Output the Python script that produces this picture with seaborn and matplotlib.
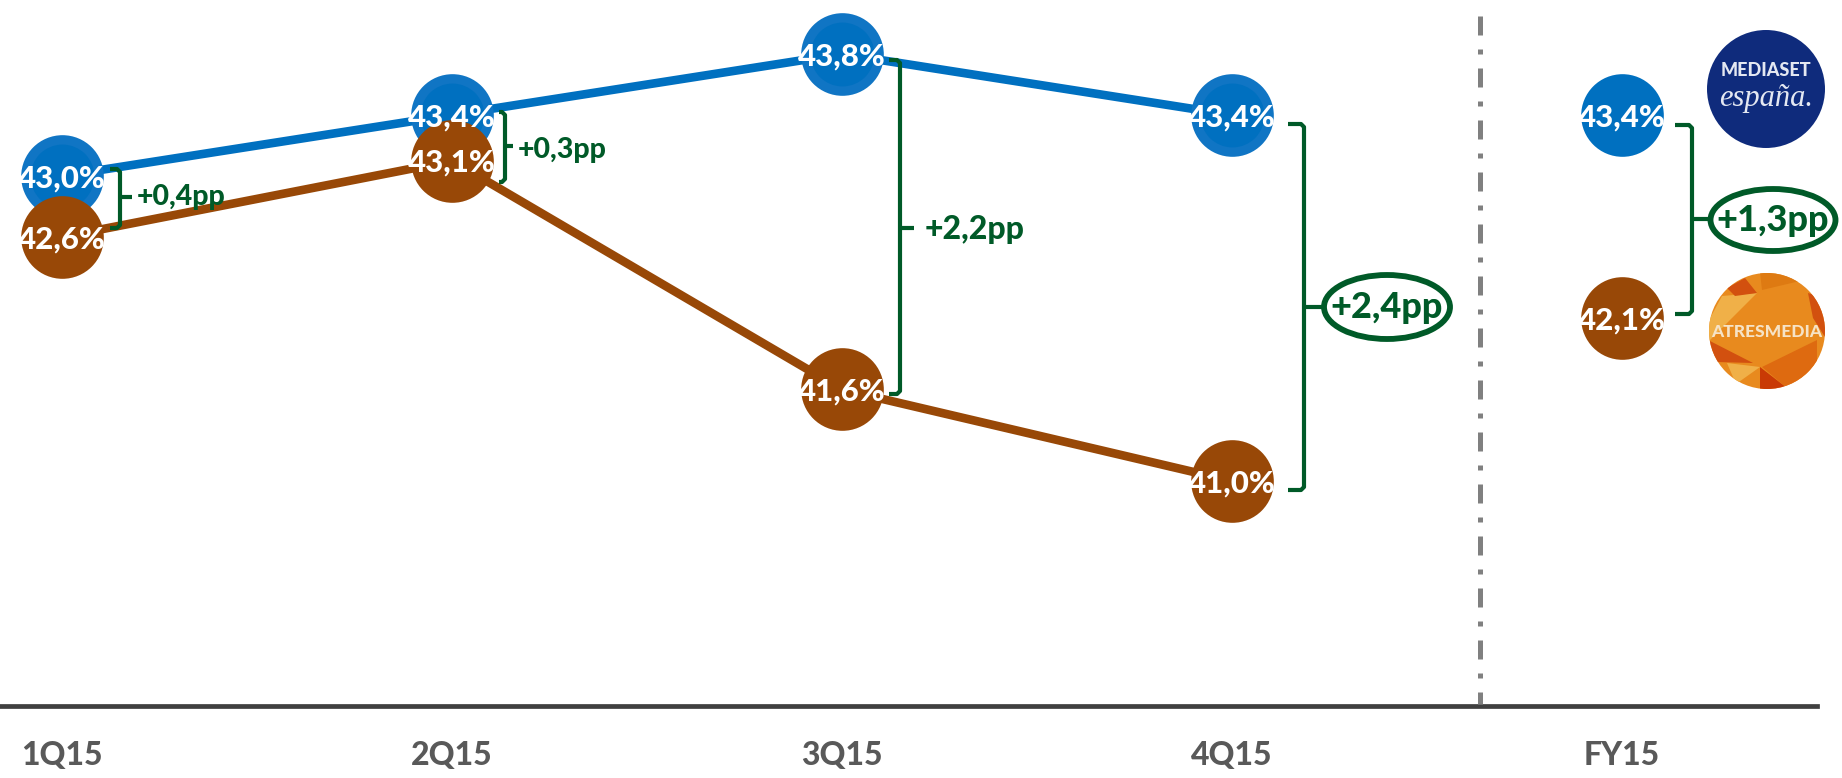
import pandas as pd
import matplotlib.pyplot as plt
import matplotlib.transforms as mtransforms
import seaborn as sns
from matplotlib.patches import Circle, Ellipse, Polygon

# Datos
quarters = ["1Q15", "2Q15", "3Q15", "4Q15"]
period_labels = ["1Q15", "2Q15", "3Q15", "4Q15", "FY15"]
mediaset = [43.0, 43.4, 43.8, 43.4]
atresmedia = [42.6, 43.1, 41.6, 41.0]
mediaset_fy = [43.4]
atresmedia_fy = [42.1]

BLUE = "#0070C0"
BLUE_LIGHT = "#1075C4"
BROWN = "#984807"
GREEN = "#005A28"
FONT = ["Lato", "DejaVu Sans"]

W, H = 1842, 778


def pct(v):
    return f"{v:.1f}%".replace(".", ",")


def bracket(ax, x_left, x_spine, y_top, y_bottom, y_mid, x_mid):
    ax.plot([x_left, x_spine - 3, x_spine, x_spine, x_spine - 3, x_left],
            [y_top, y_top, y_top + 3, y_bottom - 3, y_bottom, y_bottom],
            color=GREEN, lw=3, solid_capstyle="butt", solid_joinstyle="round")
    ax.plot([x_spine, x_mid], [y_mid, y_mid], color=GREEN, lw=3, solid_capstyle="butt")


def oval_label(ax, cx, cy, w, h, label):
    ax.add_patch(Ellipse((cx, cy), w, h, fc="white", ec=GREEN, lw=4.2))
    ax.text(cx, cy, label, color=GREEN, fontsize=26, fontweight="black",
            ha="center", va="center", family=FONT)


def draw_mediaset_logo(ax):
    ax.add_patch(Circle((1766, 89), 59, fc="#0F2B7C", ec="none"))
    ax.text(1766, 70, "MEDIASET", color="#E4E8F2", fontsize=13, fontweight="black",
            ha="center", va="center", family=FONT)
    ax.text(1766, 98, "españa.", color="#E4E8F2", fontsize=22, style="italic",
            ha="center", va="center", family=["Liberation Serif", "DejaVu Serif"])


def draw_atresmedia_logo(ax):
    clip = Circle((1767, 331), 58, fc="#E88A1E", ec="none")
    ax.add_patch(clip)
    shapes = [
        ("#F0B048", [(1708, 322), (1722, 296), (1757, 293), (1708, 342)]),
        ("#D2500F", [(1727, 288), (1745, 278), (1757, 293), (1735, 296)]),
        ("#DE7A12", [(1760, 272), (1778, 272), (1800, 281), (1762, 290)]),
        ("#D2500F", [(1808, 293), (1830, 300), (1830, 345), (1813, 318)]),
        ("#D2500F", [(1708, 340), (1753, 363), (1716, 362)]),
        ("#F0B048", [(1727, 363), (1760, 367), (1736, 384)]),
        ("#DE6A10", [(1762, 367), (1817, 340), (1817, 375), (1787, 388)]),
        ("#C93A05", [(1760, 367), (1787, 388), (1760, 392)]),
    ]
    for color, pts in shapes:
        poly = Polygon(pts, closed=True, fc=color, ec="none")
        ax.add_patch(poly)
        poly.set_clip_path(clip)
    ax.text(1767, 332, "ATRESMEDIA", color="#F6E3C6", fontsize=12.5, fontweight="black",
            ha="center", va="center", family=FONT)


def main():
    sns.set_style("white")
    plt.rcParams["font.family"] = FONT

    fig = plt.figure(figsize=(W / 100, H / 100), dpi=100)
    ax = fig.add_axes([0, (H - 706) / H, 1817 / W, 706 / H])

    df = pd.DataFrame({
        "x": list(range(4)) * 2,
        "share": mediaset + atresmedia,
        "group": ["Mediaset"] * 4 + ["Atresmedia"] * 4,
    })
    sns.lineplot(data=df, x="x", y="share", hue="group",
                 palette={"Mediaset": BLUE, "Atresmedia": BROWN},
                 linewidth=6.2, legend=False, ax=ax, zorder=2)

    ax.set_xlim(-0.159, 4.5)
    ax.set_ylim(43.8 - (706 - 54) / 152.5, 43.8 + 54 / 152.5)

    # El punto FY de Atresmedia va un poco más abajo en el original
    fy_shift = ax.transData + mtransforms.ScaledTranslation(0, -5 / 100, fig.dpi_scale_trans)

    fy_x = [4]
    s_big = 59.5 ** 2
    s_inner = 46 ** 2
    sns.scatterplot(x=list(range(4)), y=mediaset, color=BLUE_LIGHT, s=s_big, linewidth=0, ax=ax, zorder=3)
    sns.scatterplot(x=list(range(4)), y=mediaset, color=BLUE, s=s_inner, linewidth=0, ax=ax, zorder=3)
    sns.scatterplot(x=fy_x, y=mediaset_fy, color=BLUE, s=s_big, linewidth=0, ax=ax, zorder=3)
    sns.scatterplot(x=list(range(4)), y=atresmedia, color=BROWN, s=s_big, linewidth=0, ax=ax, zorder=4)
    sns.scatterplot(x=fy_x, y=atresmedia_fy, color=BROWN, s=s_big, linewidth=0, ax=ax, zorder=4,
                    transform=fy_shift)

    for x, y in zip(range(4), mediaset):
        ax.annotate(pct(y), (x, y), xytext=(0, -1.5), textcoords="offset points", color="white",
                    fontsize=22.5, fontweight="black", ha="center", va="center", zorder=5)
    for x, y in zip(range(4), atresmedia):
        ax.annotate(pct(y), (x, y), xytext=(0, -1.5), textcoords="offset points", color="white",
                    fontsize=22.5, fontweight="black", ha="center", va="center", zorder=5)
    ax.annotate(pct(mediaset_fy[0]), (4, mediaset_fy[0]), xytext=(0, -1.5), textcoords="offset points",
                color="white", fontsize=22.5, fontweight="black", ha="center", va="center", zorder=5)
    ax.annotate(pct(atresmedia_fy[0]), (4, atresmedia_fy[0]), xytext=(0, -5), textcoords="offset points",
                color="white", fontsize=22.5, fontweight="black", ha="center", va="center", zorder=5)

    ax.set_xlabel("")
    ax.set_ylabel("")
    ax.set_yticks([])
    ax.set_xticks(range(5))
    ax.set_xticklabels(period_labels, fontsize=23, fontweight="black", color="#595959")
    ax.tick_params(axis="x", length=0, pad=25)
    sns.despine(ax=ax, left=True)
    ax.spines["bottom"].set_color("#404040")
    ax.spines["bottom"].set_linewidth(3.4)
    ax.patch.set_alpha(0)

    # Capa de anotaciones en píxeles
    over = fig.add_axes([0, 0, 1, 1])
    over.set_xlim(0, W)
    over.set_ylim(H, 0)
    over.axis("off")
    over.patch.set_alpha(0)

    over.plot([1480, 1480], [16, 704], color="#808080", lw=3.6,
              linestyle=(0, (3.8, 2.8, 1.0, 2.8)), dash_capstyle="butt")

    bracket(over, 110, 120, 169, 228, 197, 132)
    bracket(over, 499, 505, 112, 182, 146, 513)
    bracket(over, 889, 900, 60, 394, 228, 914)
    bracket(over, 1288, 1304, 124, 490, 307, 1325)
    bracket(over, 1675, 1692, 125, 314, 219, 1711)

    for x, y, label, size in [(137, 197, "+0,4pp", 20.5), (518, 150, "+0,3pp", 20.5), (925, 229, "+2,2pp", 23)]:
        over.text(x, y, label, color=GREEN, fontsize=size, fontweight="black",
                  ha="left", va="center", zorder=6)

    oval_label(over, 1387, 307, 126, 64, "+2,4pp")
    oval_label(over, 1773, 220, 125, 62, "+1,3pp")

    draw_mediaset_logo(over)
    draw_atresmedia_logo(over)

    fig.savefig("out.png", dpi=100)
    plt.close(fig)


if __name__ == "__main__":
    main()
